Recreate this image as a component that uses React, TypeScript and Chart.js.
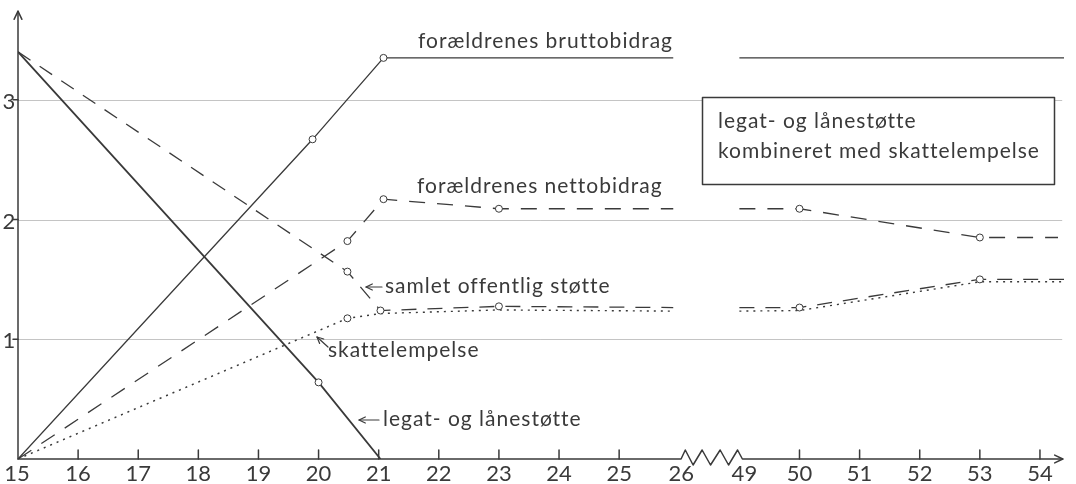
import React, { useEffect, useRef } from "react";
import { Chart, registerables } from "chart.js";
Chart.register(...registerables);

const xTickLabels = ["15","16","17","18","19","20","21","22","23","24","25","26","49","50","51","52","53","54"];
const yTickValues = [1, 2, 3];

// years / values (null = axis break between 26 and 49)
const legatYears = [15, 20, 21.03];
const legatValues = [3.4, 0.64, 0];
const legatMarks = [0, 1, 0];

const bruttoYears = [15, 19.9, 21.08, 25.9, 37, 49, 54.4];
const bruttoValues = [0, 2.67, 3.35, 3.35, null, 3.35, 3.35];
const bruttoMarks = [0, 1, 1, 0, 0, 0, 0];

const nettoYears = [15, 20.48, 21.08, 23, 25.9, 37, 49, 50, 53, 54.3];
const nettoValues = [0, 1.82, 2.17, 2.09, 2.09, null, 2.09, 2.09, 1.85, 1.85];
const nettoMarks = [0, 1, 1, 1, 0, 0, 0, 1, 1, 0];

const samletYears = [15, 20.48, 21.03, 23, 25.9, 37, 49, 50, 53, 54.4];
const samletValues = [3.4, 1.565, 1.24, 1.275, 1.265, null, 1.265, 1.265, 1.5, 1.5];
const samletMarks = [0, 1, 1, 1, 0, 0, 0, 1, 1, 0];

const skatYears = [15, 20.48, 21.03, 23, 25.9, 37, 49, 50, 53, 54.4];
const skatValues = [0, 1.175, 1.215, 1.245, 1.235, null, 1.235, 1.24, 1.48, 1.48];
const skatMarks = [0, 1, 0, 0, 0, 0, 0, 0, 0, 0];

const ink = "#3a3a3a";
const FONT = "Lato, 'Open Sans', sans-serif";

// map a year onto the broken axis (15..26 then 49..54)
function pos(year: number): number {
  if (year <= 26) return year - 15;
  if (year >= 49) return year - 37;
  return 11.5;
}

function build(years: number[], values: (number | null)[]) {
  return years.map((y, i) => ({ x: pos(y), y: values[i] }));
}

function arrowHead(ctx: CanvasRenderingContext2D, tx: number, ty: number, fx: number, fy: number, len = 7) {
  const a = Math.atan2(ty - fy, tx - fx);
  ctx.beginPath();
  ctx.moveTo(tx - len * Math.cos(a - 0.45), ty - len * Math.sin(a - 0.45));
  ctx.lineTo(tx, ty);
  ctx.lineTo(tx - len * Math.cos(a + 0.45), ty - len * Math.sin(a + 0.45));
  ctx.stroke();
}

function arrow(ctx: CanvasRenderingContext2D, fx: number, fy: number, tx: number, ty: number) {
  ctx.beginPath();
  ctx.moveTo(fx, fy);
  ctx.lineTo(tx, ty);
  ctx.stroke();
  arrowHead(ctx, tx, ty, fx, fy, 7);
}

const decor = {
  id: "decor",
  beforeDatasetsDraw(chart: any) {
    const { ctx, scales } = chart;
    const xs = scales.x, ys = scales.y;
    ctx.save();
    ctx.strokeStyle = "#c4c4c4";
    ctx.lineWidth = 1;
    for (const v of yTickValues) {
      const py = Math.round(ys.getPixelForValue(v)) + 0.5;
      ctx.beginPath();
      ctx.moveTo(xs.getPixelForValue(0), py);
      ctx.lineTo(xs.getPixelForValue(17.37), py);
      ctx.stroke();
    }
    ctx.restore();
  },
  afterDatasetsDraw(chart: any) {
    const { ctx, scales } = chart;
    const xs = scales.x, ys = scales.y;
    const x0 = xs.getPixelForValue(0);
    const y0 = ys.getPixelForValue(0);
    ctx.save();
    ctx.strokeStyle = ink;
    ctx.fillStyle = ink;
    ctx.lineWidth = 1.5;
    ctx.lineCap = "round";
    ctx.lineJoin = "round";

    // y axis
    const yTop = ys.getPixelForValue(3.74);
    ctx.beginPath();
    ctx.moveTo(x0, y0);
    ctx.lineTo(x0, yTop);
    ctx.stroke();
    arrowHead(ctx, x0, yTop, x0, y0, 9);
    // y ticks + labels
    ctx.font = `22px ${FONT}`;
    ctx.textAlign = "center";
    ctx.textBaseline = "middle";
    for (const v of yTickValues) {
      const py = ys.getPixelForValue(v);
      ctx.beginPath();
      ctx.moveTo(x0 - 5, py);
      ctx.lineTo(x0, py);
      ctx.stroke();
      ctx.fillText(String(v), 9, py + 2);
    }

    // x axis with break
    const p26 = xs.getPixelForValue(11);
    const p49 = xs.getPixelForValue(12);
    const pEnd = xs.getPixelForValue(17.38);
    const w = p49 - p26;
    ctx.beginPath();
    ctx.moveTo(x0, y0);
    ctx.lineTo(p26 + 0.03 * w, y0);
    const zz = [
      [0.10, -9], [0.23, 6], [0.38, -9], [0.52, 6], [0.68, -9], [0.82, 6], [0.97, -9], [1.05, 0]
    ];
    for (const [fx, dy] of zz) ctx.lineTo(p26 + fx * w, y0 + dy);
    ctx.lineTo(pEnd, y0);
    ctx.stroke();
    arrowHead(ctx, pEnd, y0, x0, y0, 9);
    // x ticks
    for (let i = 1; i < xTickLabels.length; i++) {
      if (i === 11 || i === 12) continue;
      const px = xs.getPixelForValue(i);
      ctx.beginPath();
      ctx.moveTo(px, y0);
      ctx.lineTo(px, y0 - 9);
      ctx.stroke();
    }
    ctx.textBaseline = "alphabetic";
    for (let i = 0; i < xTickLabels.length; i++) {
      let px = xs.getPixelForValue(i);
      if (i === 12) px += 5;
      if (i === 11) px += 2;
      if (i === 0) px -= 1;
      ctx.fillText(xTickLabels[i], px, 481);
    }

    // annotations
    ctx.textAlign = "left";
    ctx.font = `21px ${FONT}`;
    (ctx as any).letterSpacing = "1px";
    ctx.lineWidth = 1.2;
    ctx.fillText("forældrenes bruttobidrag", 418, 48);
    ctx.fillText("forældrenes nettobidrag", 417, 193);
    ctx.fillText("samlet offentlig støtte", 385, 293);
    arrow(ctx, 382, 287, 366, 287);
    ctx.fillText("skattelempelse", 328, 357);
    arrow(ctx, 328, 347, 317, 337);
    ctx.fillText("legat- og lånestøtte", 383, 426);
    arrow(ctx, 379, 420, 359, 420);

    // box
    ctx.fillStyle = "#ffffff";
    ctx.fillRect(702, 97, 352, 87);
    ctx.lineWidth = 1.5;
    ctx.strokeRect(702.5, 97.5, 352, 87);
    ctx.fillStyle = ink;
    ctx.fillText("legat- og lånestøtte", 718, 128);
    ctx.fillText("kombineret med skattelempelse", 718, 158);
    ctx.restore();
  },
};

export default function App() {
  const ref = useRef<HTMLCanvasElement>(null);
  useEffect(() => {
    if (!ref.current) return;
    const common = {
      tension: 0,
      borderColor: ink,
      pointBackgroundColor: "#ffffff",
      pointBorderColor: ink,
      pointBorderWidth: 1,
      spanGaps: false,
      fill: false,
    };
    const chart = new Chart(ref.current, {
      type: "line",
      data: {
        datasets: [
          { ...common, label: "legat- og lånestøtte", data: build(legatYears, legatValues), borderWidth: 1.8, pointRadius: legatMarks.map(m => m * 3.5) },
          { ...common, label: "forældrenes bruttobidrag", data: build(bruttoYears, bruttoValues), borderWidth: 1.3, pointRadius: bruttoMarks.map(m => m * 3.5) },
          { ...common, label: "forældrenes nettobidrag", data: build(nettoYears, nettoValues), borderWidth: 1.3, borderDash: [16, 12], pointRadius: nettoMarks.map(m => m * 3.5) },
          { ...common, label: "samlet offentlig støtte", data: build(samletYears, samletValues), borderWidth: 1.3, borderDash: [15, 11], pointRadius: samletMarks.map(m => m * 3.5) },
          { ...common, label: "skattelempelse", data: build(skatYears, skatValues), borderWidth: 1.4, borderDash: [2, 5], pointRadius: skatMarks.map(m => m * 3.5) },
        ] as any,
      },
      options: {
        animation: false,
        responsive: false,
        devicePixelRatio: 1,
        layout: { padding: { left: 18, right: 12, top: 10, bottom: 25 } },
        scales: {
          x: { type: "linear", min: 0, max: 17.4, display: false },
          y: { type: "linear", min: 0, max: 3.75, display: false },
        },
        plugins: { legend: { display: false }, tooltip: { enabled: false } },
        elements: { point: { hoverRadius: 0 } },
      },
      plugins: [decor],
    });
    return () => chart.destroy();
  }, []);
  return (
    <div style={{ position: "absolute", left: 0, top: 0, width: 1076, height: 484, background: "#fff" }}>
      <canvas ref={ref} width={1076} height={484} />
    </div>
  );
}
